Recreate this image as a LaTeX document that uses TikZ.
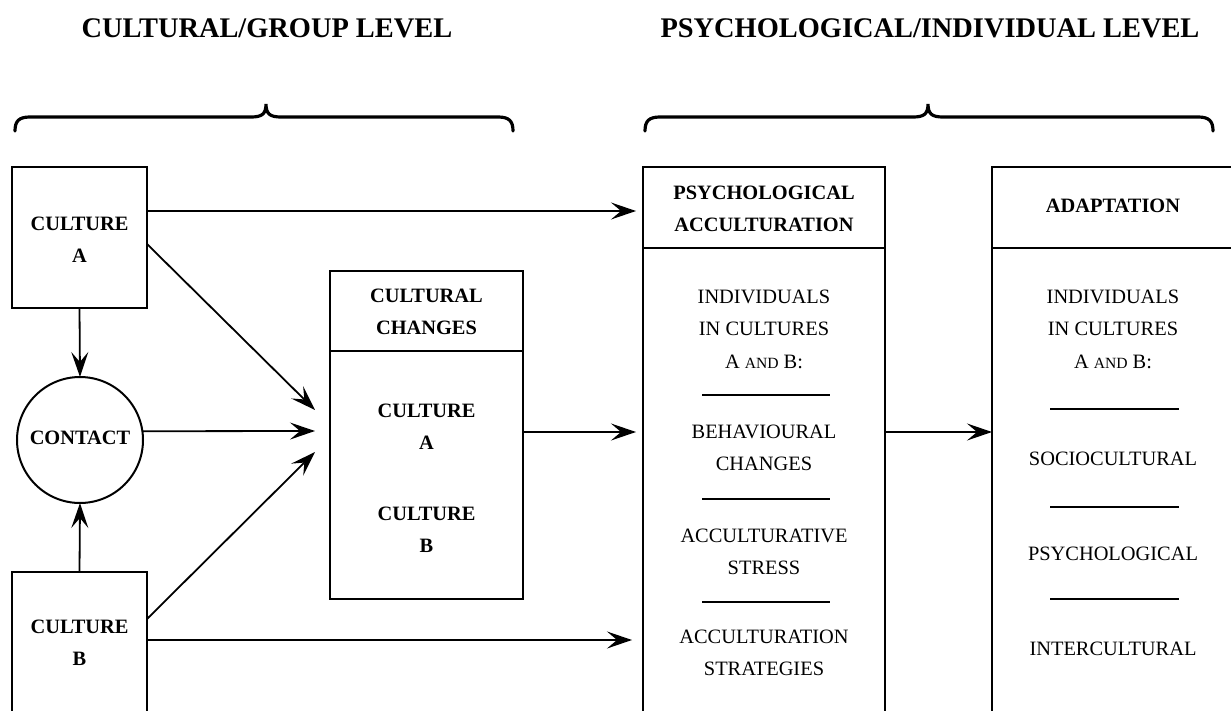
\documentclass[tikz,border=0pt]{standalone}
\usepackage{fontspec}
\setmainfont{Liberation Serif}
\usetikzlibrary{arrows.meta}
\newcommand{\smand}{{\fontsize{7.8}{8}\selectfont AND}}
\begin{document}
\begin{tikzpicture}[x=0.5pt,y=-0.5pt,
  box/.style={draw, line width=1pt, inner sep=0pt, outer sep=0pt},
  bt/.style={font=\fontsize{10.2}{16}\selectfont\bfseries, align=center, inner sep=0pt},
  rt/.style={font=\fontsize{10.2}{16.2}\selectfont, align=center, inner sep=0pt},
  arr/.style={-{Stealth[length=12.5pt,width=8.5pt,inset=5pt]}, line width=0.9pt},
  sepline/.style={line width=1pt},
  brace/.style={line width=1.6pt, line cap=round},
  title/.style={font=\fontsize{14.2}{17}\selectfont\bfseries, inner sep=0pt}]
\useasboundingbox (0,0) rectangle (1231,711);
\clip (0,0) rectangle (1231,711);

% titles and braces
\node[title] (t1) at (267,28) {CULTURAL/GROUP LEVEL};
\node[title] (t2) at (930,28) {PSYCHOLOGICAL/INDIVIDUAL LEVEL};
\draw[brace] (15,131) .. controls (15,121) and (19,117) .. (30,117) -- (251,117)
  .. controls (262,117) and (266,114) .. (266,104)
  .. controls (266,114) and (270,117) .. (281,117) -- (498,117)
  .. controls (509,117) and (513,121) .. (513,131);
\draw[brace] (645,131) .. controls (645,121) and (649,117) .. (660,117) -- (913,117)
  .. controls (924,117) and (928,114) .. (928,104)
  .. controls (928,114) and (932,117) .. (943,117) -- (1198,117)
  .. controls (1209,117) and (1213,121) .. (1213,131);

% culture A, contact, culture B
\node[box, minimum width=67.5pt, minimum height=70.5pt] (ca) at (79.5,237.5) {};
\node[bt] (cat) at (79.5,240) {CULTURE\\A};
\node[box, circle, minimum size=63pt] (ct) at (80,440) {};
\node[bt] (ctt) at (80,438) {CONTACT};
\node[box, minimum width=67.5pt, minimum height=94pt] (cb) at (79.5,666) {};
\node[bt] (cbt) at (79.5,643) {CULTURE\\B};

% cultural changes
\node[box, minimum width=96.5pt, minimum height=164pt] (cc) at (426.5,435) {};
\coordinate (ccdiv) at (0,351);
\draw[line width=1pt] (cc.west |- ccdiv) -- (cc.east |- ccdiv);
\node[bt] (cch) at (426.5,312) {CULTURAL\\CHANGES};
\node[bt] (cca) at (426.5,427) {CULTURE\\A};
\node[bt] (ccb) at (426.5,530) {CULTURE\\B};

% psychological acculturation
\node[box, minimum width=121pt, minimum height=296.5pt] (pa) at (764,463.5) {};
\coordinate (hdiv) at (0,248);
\draw[line width=1pt] (pa.west |- hdiv) -- (pa.east |- hdiv);
\node[bt] (pah) at (764,209) {PSYCHOLOGICAL\\ACCULTURATION};
\node[rt] (pa1) at (764,329) {INDIVIDUALS\\IN CULTURES\\A \smand{} B:};
\coordinate (ps1l) at (702,395); \coordinate (ps1r) at (830,395);
\draw[sepline] (ps1l) -- (ps1r);
\node[rt] (pa2) at (764,448) {BEHAVIOURAL\\CHANGES};
\coordinate (ps2l) at (702,499); \coordinate (ps2r) at (830,499);
\draw[sepline] (ps2l) -- (ps2r);
\node[rt] (pa3) at (764,552) {ACCULTURATIVE\\STRESS};
\coordinate (ps3l) at (702,602); \coordinate (ps3r) at (830,602);
\draw[sepline] (ps3l) -- (ps3r);
\node[rt] (pa4) at (764,653) {ACCULTURATION\\STRATEGIES};

% adaptation
\node[box, minimum width=121pt, minimum height=296.5pt] (ad) at (1113,463.5) {};
\draw[line width=1pt] (ad.west |- hdiv) -- (ad.east |- hdiv);
\node[bt] (adh) at (1113,206) {ADAPTATION};
\node[rt] (ad1) at (1113,329) {INDIVIDUALS\\IN CULTURES\\A \smand{} B:};
\coordinate (as1l) at (1050,409); \coordinate (as1r) at (1179,409);
\draw[sepline] (as1l) -- (as1r);
\node[rt] (ad2) at (1113,459) {SOCIOCULTURAL};
\coordinate (as2l) at (1050,507); \coordinate (as2r) at (1179,507);
\draw[sepline] (as2l) -- (as2r);
\node[rt] (ad3) at (1113,554) {PSYCHOLOGICAL};
\coordinate (as3l) at (1050,599); \coordinate (as3r) at (1179,599);
\draw[sepline] (as3l) -- (as3r);
\node[rt] (ad4) at (1113,649) {INTERCULTURAL};

% connectors
\coordinate (yA) at (0,211);
\coordinate (yAd) at (0,244);
\coordinate (yBd) at (0,619);
\coordinate (yB) at (0,640);
\coordinate (ymid) at (0,432);
\draw[arr] (ca.south) -- (ct.north);
\draw[arr] (cb.north) -- (ct.south);
\draw[arr, shorten >=3.5pt] (ca.east |- yA) -- (pa.west |- yA);
\draw[arr] (ca.east |- yAd) -- ([shift={(-7.5pt,12.5pt)}]cc.west);
\draw[arr] (ct.8) -- ([shift={(-7.5pt,2pt)}]cc.west);
\draw[arr] (cb.east |- yBd) -- ([shift={(-7.5pt,-8.5pt)}]cc.west);
\draw[arr, shorten >=3.5pt] (cc.east |- ymid) -- (pa.west |- ymid);
\draw[arr] (pa.east |- ymid) -- (ad.west |- ymid);
\draw[arr, shorten >=5.5pt] (cb.east |- yB) -- (pa.west |- yB);
\end{tikzpicture}
\end{document}
